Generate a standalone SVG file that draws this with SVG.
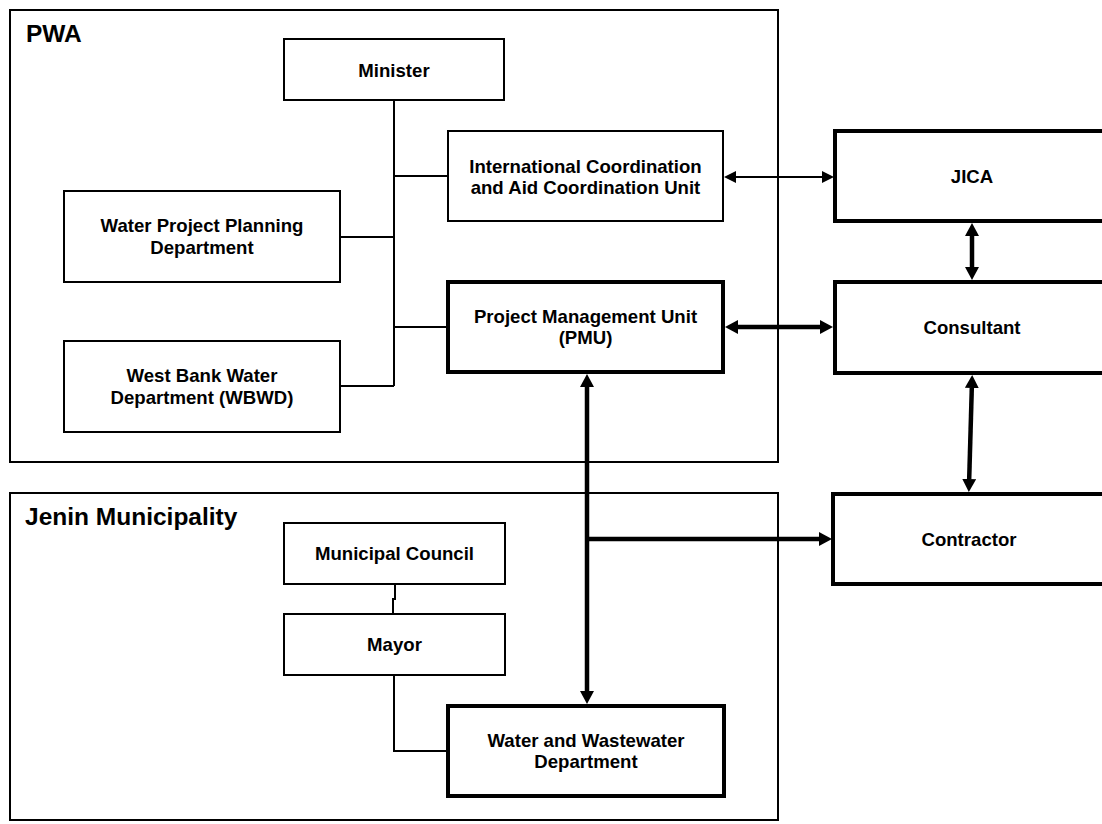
<svg xmlns="http://www.w3.org/2000/svg" width="1102" height="824" viewBox="0 0 1102 824">
  <style>
    .frame { fill: none; stroke: #000; stroke-width: 2; }
    .box { fill: #fff; stroke: #000; stroke-width: 2; }
    .box-b { fill: #fff; stroke: #000; stroke-width: 4; }
    .t { font-family: "Liberation Sans", Arial, sans-serif; font-weight: bold; font-size: 18.6px; fill: #000; text-anchor: middle; }
    .title { font-family: "Liberation Sans", Arial, sans-serif; font-weight: bold; font-size: 24.5px; fill: #000; }
    .link { fill: none; stroke: #000; stroke-width: 2; }
    .link-b { fill: none; stroke: #000; stroke-width: 4.5; }
  </style>
  <defs>
    <marker id="ah" markerUnits="userSpaceOnUse" viewBox="0 0 12 12" markerWidth="12" markerHeight="12" refX="0" refY="6" orient="auto-start-reverse">
      <path d="M0,0 L12,6 L0,12 z" fill="#000"/>
    </marker>
    <marker id="ahb" markerUnits="userSpaceOnUse" viewBox="0 0 13 14" markerWidth="13" markerHeight="14" refX="0" refY="7" orient="auto-start-reverse">
      <path d="M0,0 L13,7 L0,14 z" fill="#000"/>
    </marker>
  </defs>
  <rect width="1102" height="824" fill="#fff"/>

  <!-- organisation frames -->
  <g id="frame-pwa">
    <rect class="frame" x="10" y="10" width="768" height="452"/>
    <text class="title" x="26" y="42">PWA</text>
  </g>
  <g id="frame-jenin">
    <rect class="frame" x="10" y="493" width="768" height="327"/>
    <text class="title" x="25" y="525">Jenin Municipality</text>
  </g>

  <!-- connectors -->
  <g id="connectors">
    <!-- PWA internal tree -->
    <path class="link" d="M394,100 V386"/>
    <path class="link" d="M394,176 H448"/>
    <path class="link" d="M394,327 H448"/>
    <path class="link" d="M340,237 H394"/>
    <path class="link" d="M340,386 H394"/>
    <!-- Jenin internal tree -->
    <path class="link" d="M395,584 V599 H393 V614"/>
    <path class="link" d="M394,675 V751 H448"/>
    <!-- external links -->
    <path class="link" d="M736,177 H822" marker-start="url(#ah)" marker-end="url(#ah)"/>
    <path class="link-b" d="M738,327 H820" marker-start="url(#ahb)" marker-end="url(#ahb)"/>
    <path class="link-b" d="M972,236 V267" marker-start="url(#ahb)" marker-end="url(#ahb)"/>
    <path class="link-b" d="M971.8,388 L969.2,479" marker-start="url(#ahb)" marker-end="url(#ahb)"/>
    <path class="link-b" d="M587,387 V691" marker-start="url(#ahb)" marker-end="url(#ahb)"/>
    <path class="link-b" d="M587,539 H819" marker-end="url(#ahb)"/>
  </g>

  <!-- PWA units -->
  <g id="minister">
    <rect class="box" x="284" y="39" width="220" height="61"/>
    <text class="t" x="394" y="77">Minister</text>
  </g>
  <g id="icu">
    <rect class="box" x="448" y="131" width="275" height="90"/>
    <text class="t" x="585.5" y="172.5">International Coordination</text>
    <text class="t" x="585.5" y="193.5">and Aid Coordination Unit</text>
  </g>
  <g id="wppd">
    <rect class="box" x="64" y="191" width="276" height="91"/>
    <text class="t" x="202" y="232">Water Project Planning</text>
    <text class="t" x="202" y="253.5">Department</text>
  </g>
  <g id="pmu">
    <rect class="box-b" x="448" y="282" width="275" height="90"/>
    <text class="t" x="585.5" y="323">Project Management Unit</text>
    <text class="t" x="585.5" y="344.3">(PMU)</text>
  </g>
  <g id="wbwd">
    <rect class="box" x="64" y="341" width="276" height="91"/>
    <text class="t" x="202" y="381.5">West Bank Water</text>
    <text class="t" x="202" y="403.5">Department (WBWD)</text>
  </g>

  <!-- external parties -->
  <g id="jica">
    <rect class="box-b" x="835" y="131" width="274" height="90"/>
    <text class="t" x="972" y="183">JICA</text>
  </g>
  <g id="consultant">
    <rect class="box-b" x="835" y="282" width="274" height="91"/>
    <text class="t" x="972" y="334">Consultant</text>
  </g>
  <g id="contractor">
    <rect class="box-b" x="833" y="494" width="274" height="90"/>
    <text class="t" x="969" y="545.7">Contractor</text>
  </g>

  <!-- Jenin Municipality units -->
  <g id="council">
    <rect class="box" x="284" y="523" width="221" height="61"/>
    <text class="t" x="394.5" y="560">Municipal Council</text>
  </g>
  <g id="mayor">
    <rect class="box" x="284" y="614" width="221" height="61"/>
    <text class="t" x="394.5" y="651">Mayor</text>
  </g>
  <g id="wwd">
    <rect class="box-b" x="448" y="706" width="276" height="90"/>
    <text class="t" x="586" y="747">Water and Wastewater</text>
    <text class="t" x="586" y="768.3">Department</text>
  </g>
</svg>
